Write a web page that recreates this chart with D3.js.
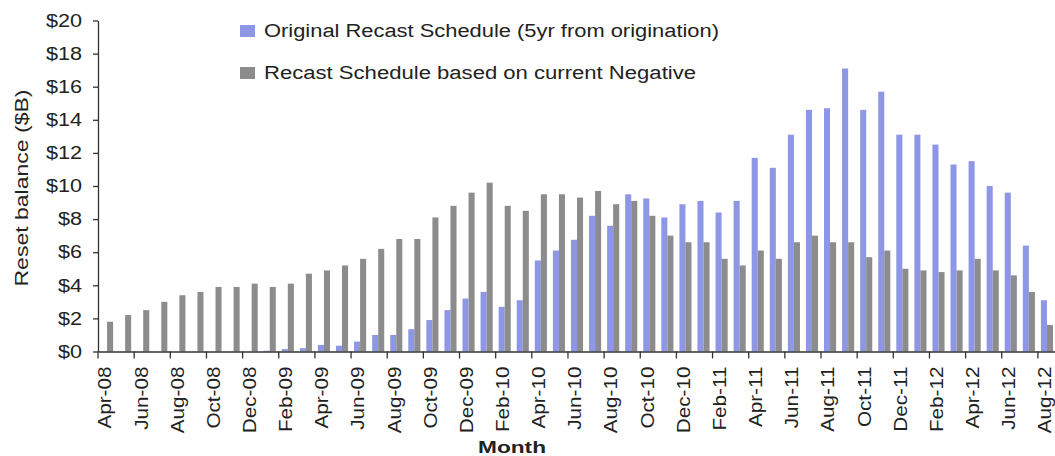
<!DOCTYPE html>
<html>
<head>
<meta charset="utf-8">
<script src="https://cdn.jsdelivr.net/npm/d3@7"></script>
<style>
    body { margin: 0; background: #fff; }
    text { font-family: Arial, "Liberation Sans", sans-serif; fill: #222; }
</style>
</head>
<body>
<div id="chart-container"></div>
<script>
const months = [
    "Apr-08", "May-08", "Jun-08", "Jul-08", "Aug-08", "Sep-08", "Oct-08", "Nov-08", "Dec-08",
    "Jan-09", "Feb-09", "Mar-09", "Apr-09", "May-09", "Jun-09", "Jul-09", "Aug-09", "Sep-09", "Oct-09", "Nov-09", "Dec-09",
    "Jan-10", "Feb-10", "Mar-10", "Apr-10", "May-10", "Jun-10", "Jul-10", "Aug-10", "Sep-10", "Oct-10", "Nov-10", "Dec-10",
    "Jan-11", "Feb-11", "Mar-11", "Apr-11", "May-11", "Jun-11", "Jul-11", "Aug-11", "Sep-11", "Oct-11", "Nov-11", "Dec-11",
    "Jan-12", "Feb-12", "Mar-12", "Apr-12", "May-12", "Jun-12", "Jul-12", "Aug-12"
];

// Original Recast Schedule (5yr from origination), $B
const originalRecast = [
    0, 0, 0, 0, 0, 0, 0, 0, 0,
    0.05, 0.15, 0.2, 0.4, 0.35, 0.6, 1.0, 1.0, 1.35, 1.9, 2.5, 3.2,
    3.6, 2.7, 3.1, 5.5, 6.1, 6.75, 8.2, 7.6, 9.5, 9.25, 8.1, 8.9,
    9.1, 8.4, 9.1, 11.7, 11.1, 13.1, 14.6, 14.7, 17.1, 14.6, 15.7, 13.1,
    13.1, 12.5, 11.3, 11.5, 10.0, 9.6, 6.4, 3.1
];

// Recast Schedule based on current Negative, $B
const currentNegative = [
    1.8, 2.2, 2.5, 3.0, 3.4, 3.6, 3.9, 3.9, 4.1,
    3.9, 4.1, 4.7, 4.9, 5.2, 5.6, 6.2, 6.8, 6.8, 8.1, 8.8, 9.6,
    10.2, 8.8, 8.5, 9.5, 9.5, 9.3, 9.7, 8.9, 9.1, 8.2, 7.0, 6.6,
    6.6, 5.6, 5.2, 6.1, 5.6, 6.6, 7.0, 6.6, 6.6, 5.7, 6.1, 5.0,
    4.9, 4.8, 4.9, 5.6, 4.9, 4.6, 3.6, 1.6
];

const seriesNames = ["Original Recast Schedule (5yr from origination)", "Recast Schedule based on current Negative"];
const seriesKeys = ["original", "negative"];
const yTicks = [0, 2, 4, 6, 8, 10, 12, 14, 16, 18, 20];

const width = 1055;
const height = 456;
const colors = { original: "#8e97e6", negative: "#8c8c8c" };

const data = months.map((m, i) => ({ month: m, original: originalRecast[i], negative: currentNegative[i] }));

const svg = d3.select("#chart-container").append("svg")
    .attr("width", width)
    .attr("height", height);

const x = d3.scaleBand()
    .domain(months)
    .range([98, 1056])
    .paddingInner(0.33)
    .paddingOuter(0.166);

const xSub = d3.scaleBand()
    .domain(seriesKeys)
    .range([0, x.bandwidth()]);

const y = d3.scaleLinear()
    .domain([0, 20])
    .range([351.5, 20.5]);

// stretch text horizontally like the source picture
function stretch(sel, k) {
    sel.each(function () {
        const len = this.getComputedTextLength();
        d3.select(this)
            .attr("textLength", len * k)
            .attr("lengthAdjust", "spacingAndGlyphs");
    });
}

// bars
const groups = svg.append("g")
    .selectAll("g")
    .data(data)
    .join("g")
    .attr("transform", d => `translate(${x(d.month)},0)`);

groups.selectAll("rect")
    .data(d => seriesKeys.map(k => ({ key: k, value: d[k] })))
    .join("rect")
    .attr("x", d => xSub(d.key))
    .attr("y", d => y(d.value))
    .attr("width", xSub.bandwidth())
    .attr("height", d => y(0) - y(d.value))
    .attr("fill", d => colors[d.key]);

// y axis
const yAxis = svg.append("g")
    .attr("transform", "translate(98,0)")
    .call(d3.axisLeft(y)
        .tickValues(yTicks)
        .tickFormat(d => "$" + d)
        .tickSize(5)
        .tickSizeOuter(0)
        .tickPadding(11));

yAxis.select(".domain").attr("stroke", "#333").attr("stroke-width", 1.3);
yAxis.selectAll(".tick line").attr("stroke", "#333").attr("stroke-width", 1.3);
yAxis.selectAll(".tick text")
    .attr("font-size", "18px")
    .attr("font-family", "Arial, 'Liberation Sans', sans-serif")
    .attr("fill", "#222");
stretch(yAxis.selectAll(".tick text"), 1.2);

// x axis
const step = x.step();
const xAxis = svg.append("g")
    .attr("transform", `translate(0,${y(0)})`)
    .call(d3.axisBottom(x)
        .tickValues(months.filter((m, i) => i % 2 === 0))
        .tickSize(7)
        .tickSizeOuter(0));

xAxis.select(".domain").attr("stroke", "#333").attr("stroke-width", 1.3);
xAxis.selectAll(".tick line")
    .attr("x1", -step / 2)
    .attr("x2", -step / 2)
    .attr("stroke", "#333")
    .attr("stroke-width", 1.3);
xAxis.selectAll(".tick text")
    .attr("font-size", "18px")
    .attr("font-family", "Arial, 'Liberation Sans', sans-serif")
    .attr("fill", "#222")
    .attr("text-anchor", "end")
    .attr("transform", "rotate(-90)")
    .attr("x", -15)
    .attr("y", -2)
    .attr("dy", "0.35em");
stretch(xAxis.selectAll(".tick text"), 1.15);

// axis titles
const yTitle = svg.append("text")
    .attr("transform", "translate(28,188) rotate(-90)")
    .attr("text-anchor", "middle")
    .attr("font-size", "18px")
    .text("Reset balance ($B)");
yTitle.attr("textLength", 197).attr("lengthAdjust", "spacingAndGlyphs");

svg.append("text")
    .attr("x", 512)
    .attr("y", 453)
    .attr("text-anchor", "middle")
    .attr("font-size", "17px")
    .attr("font-weight", "bold")
    .attr("textLength", 68)
    .attr("lengthAdjust", "spacingAndGlyphs")
    .text("Month");

// legend
const legendLengths = [455, 432];
const legend = svg.append("g")
    .selectAll("g")
    .data(seriesKeys)
    .join("g")
    .attr("transform", (d, i) => `translate(240,${25 + i * 42})`);

legend.append("rect")
    .attr("width", 15)
    .attr("height", 12)
    .attr("fill", d => colors[d]);

legend.append("text")
    .attr("x", 24)
    .attr("y", 12)
    .attr("font-size", "18px")
    .attr("textLength", (d, i) => legendLengths[i])
    .attr("lengthAdjust", "spacingAndGlyphs")
    .text((d, i) => seriesNames[i]);
</script>
</body>
</html>
